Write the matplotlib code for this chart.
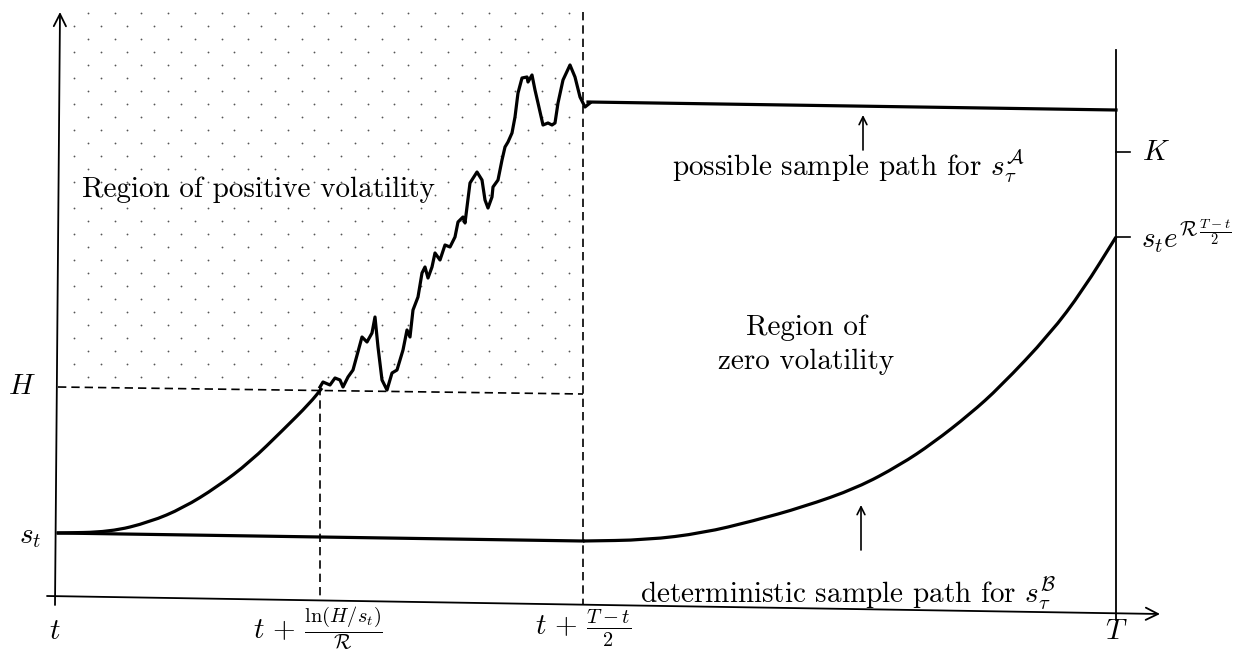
import numpy as np
import matplotlib.pyplot as plt
from matplotlib.path import Path
from matplotlib.patches import PathPatch

plt.rcParams['font.family'] = 'cmr10'
plt.rcParams['mathtext.fontset'] = 'cm'
plt.rcParams['axes.unicode_minus'] = False

# all coordinates are in the picture's own units (x to the right, y downwards)
# axes
x_axis_x = [47, 1160]
x_axis_y = [596, 614]
y_axis_x = [55, 60]
y_axis_y = [605, 12]
T_line_x = [1116, 1116]
T_line_y = [50, 620]

# levels
H_line_x = [58, 583]
H_line_y = [387, 394]
half_line_x = [583, 583]
half_line_y = [12, 605]
hit_line_x = [320, 320]
hit_line_y = [387, 600]

# deterministic growth up to H
rise_x = [57, 110, 150, 183, 217, 250, 283, 310, 322]
rise_y = [533, 532, 522, 508, 487, 462, 430, 403, 388]

# random path above H
rand_x = [320, 323, 330, 335, 340, 343, 348, 353, 362, 367, 372, 375, 378, 382, 387,
          392, 397, 403, 407, 410, 413, 418, 422, 425, 428, 432, 435, 440, 445, 450,
          455, 458, 463, 465, 467, 470, 477, 482, 485, 488, 492, 493, 498, 502, 505,
          508, 512, 515, 518, 522, 527, 528, 532, 535, 538, 543, 548, 552, 555, 558,
          563, 570, 575, 580, 585, 590]
rand_y = [387, 382, 385, 378, 380, 387, 377, 370, 337, 342, 333, 317, 347, 380, 390,
          373, 370, 350, 330, 337, 310, 297, 273, 267, 278, 267, 253, 260, 245, 247,
          237, 222, 217, 223, 207, 183, 172, 180, 200, 208, 197, 187, 180, 160, 147,
          142, 133, 117, 93, 78, 77, 82, 75, 90, 103, 125, 123, 125, 123, 103,
          80, 65, 77, 97, 107, 103]

# frozen path A
flatA_x = [588, 1116]
flatA_y = [102, 110]

# deterministic path B
flatB_x = [58, 583]
flatB_y = [533, 541]
curveB_x = [583, 647, 703, 753, 803, 857, 900, 933, 970, 1000, 1050, 1083, 1116]
curveB_y = [541, 540, 533, 521, 507, 488, 465, 443, 414, 387, 334, 290, 237]

# right hand ticks
K_y = 152
top_y = 237


def smooth_path(xs, ys):
    # quadratic B-spline through the midpoints, exact at both ends
    p = np.column_stack([xs, ys]).astype(float)
    mids = (p[:-1] + p[1:]) / 2
    verts = [p[0], mids[0]]
    codes = [Path.MOVETO, Path.LINETO]
    for i in range(1, len(p) - 1):
        verts += [p[i], mids[i]]
        codes += [Path.CURVE3, Path.CURVE3]
    verts.append(p[-1])
    codes.append(Path.LINETO)
    return Path(verts, codes)


fig = plt.figure(figsize=(12.52, 6.54), dpi=100)
ax = fig.add_axes([0, 0, 1, 1])
ax.set_xlim(0, 1252)
ax.set_ylim(654, 0)
ax.axis('off')

# dotted region of positive volatility
rows = np.arange(13, 385, 13)
for i, yy in enumerate(rows):
    start = 88 if i % 2 == 0 else 74
    xs = np.arange(start, 580, 26.7)
    ax.plot(xs, np.full_like(xs, yy), linestyle='none', marker='o', ms=1.3,
            color='#555555', markeredgewidth=0)

# axes with arrows
ax.annotate('', xy=(x_axis_x[1], x_axis_y[1]), xytext=(x_axis_x[0], x_axis_y[0]),
            arrowprops=dict(arrowstyle='->', lw=1.3, color='black', mutation_scale=22,
                            shrinkA=0, shrinkB=0))
ax.annotate('', xy=(y_axis_x[1], y_axis_y[1]), xytext=(y_axis_x[0], y_axis_y[0]),
            arrowprops=dict(arrowstyle='->', lw=1.3, color='black', mutation_scale=22,
                            shrinkA=0, shrinkB=0))
ax.plot(T_line_x, T_line_y, color='black', lw=1.3)
ax.plot([1116, 1130], [K_y, K_y], color='black', lw=1.2)
ax.plot([1116, 1130], [top_y, top_y], color='black', lw=1.2)

# dashed guides
dash = dict(color='black', lw=1.2, linestyle=(0, (5, 3)))
ax.plot(H_line_x, H_line_y, **dash)
ax.plot(half_line_x, half_line_y, **dash)
ax.plot(hit_line_x, hit_line_y, **dash)

# paths
ax.add_patch(PathPatch(smooth_path(rise_x, rise_y), fill=False, lw=2.3, ec='black'))
ax.plot(rand_x, rand_y, color='black', lw=2.3, solid_joinstyle='round')
ax.plot(flatA_x, flatA_y, color='black', lw=2.3)
ax.plot(flatB_x, flatB_y, color='black', lw=2.3)
ax.add_patch(PathPatch(smooth_path(curveB_x, curveB_y), fill=False, lw=2.3, ec='black'))

# pointer arrows
ax.annotate('', xy=(863, 115), xytext=(863, 150),
            arrowprops=dict(arrowstyle='->', lw=1.2, color='black', mutation_scale=14,
                            shrinkA=0, shrinkB=0))
ax.annotate('', xy=(861, 505), xytext=(861, 550),
            arrowprops=dict(arrowstyle='->', lw=1.2, color='black', mutation_scale=14,
                            shrinkA=0, shrinkB=0))

fs = 21
ax.text(82, 190, 'Region of positive volatility', fontsize=fs, ha='left', va='center')
ax.text(806, 328, 'Region of', fontsize=fs, ha='center', va='center')
ax.text(806, 362, 'zero volatility', fontsize=fs, ha='center', va='center')
ax.text(672, 166, r'possible sample path for $s_\tau^{\mathcal{A}}$', fontsize=fs,
        ha='left', va='center')
ax.text(640, 594, r'deterministic sample path for $s_\tau^{\mathcal{B}}$', fontsize=fs,
        ha='left', va='center')

ax.text(22, 387, r'$H$', fontsize=fs, ha='center', va='center')
ax.text(30, 537, r'$s_t$', fontsize=fs, ha='center', va='center')
ax.text(55, 632, r'$t$', fontsize=fs, ha='center', va='center')
ax.text(318, 628, r'$t\,+\,\frac{\ln(H/s_t)}{\mathcal{R}}$', fontsize=fs, ha='center', va='center')
ax.text(583, 628, r'$t\,+\,\frac{T-t}{2}$', fontsize=fs, ha='center', va='center')
ax.text(1116, 632, r'$T$', fontsize=fs, ha='center', va='center')
ax.text(1142, 153, r'$K$', fontsize=fs, ha='left', va='center')
ax.text(1141, 236, r'$s_t e^{\mathcal{R}\,\frac{T-t}{2}}$', fontsize=fs, ha='left', va='center')

fig.savefig('out.png', dpi=100)
